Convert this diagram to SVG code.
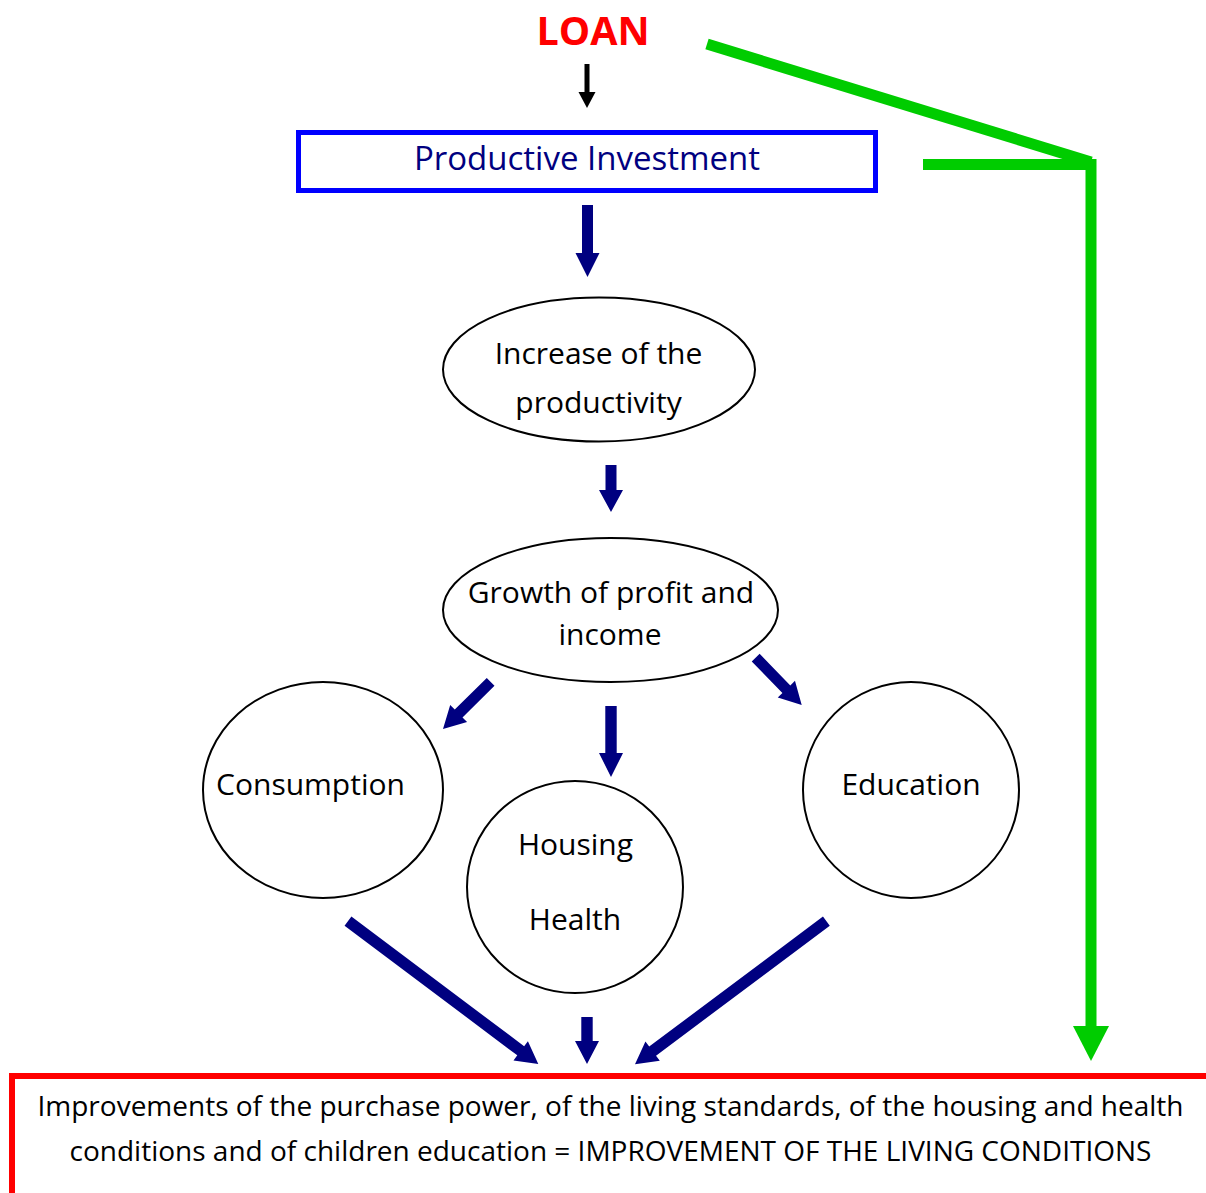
<svg xmlns="http://www.w3.org/2000/svg" width="1206" height="1193" viewBox="0 0 1206 1193">
<style>
.t{font-family:"Open Sans","Liberation Sans",sans-serif;fill:#000;text-anchor:middle}
.n{fill:#fff;stroke:#000;stroke-width:2}
.na{fill:#000080}
.g{stroke:#00cc00;stroke-width:11;fill:none}
</style>
<rect width="1206" height="1193" fill="#fff"/>
<g id="loan"><text class="t" x="593" y="45" font-size="39.5" font-weight="bold" style="fill:#ff0000">LOAN</text></g>
<g id="productive-investment">
<rect x="298.5" y="132.5" width="577" height="58" fill="#fff" stroke="#0000ff" stroke-width="5"/>
<text class="t" x="587" y="170" font-size="33" style="fill:#000080">Productive Investment</text>
</g>
<g id="increase">
<ellipse class="n" cx="599" cy="369.5" rx="156" ry="72"/>
<text class="t" x="598.5" y="364" font-size="30">Increase of the</text>
<text class="t" x="598.5" y="413" font-size="30">productivity</text>
</g>
<g id="growth">
<ellipse class="n" cx="610.5" cy="610" rx="167.5" ry="72"/>
<text class="t" x="611" y="603" font-size="30">Growth of profit and</text>
<text class="t" x="610" y="645" font-size="30">income</text>
</g>
<g id="consumption">
<ellipse class="n" cx="323" cy="790" rx="120" ry="108"/>
<text class="t" x="310.5" y="795" font-size="30">Consumption</text>
</g>
<g id="housing-health">
<ellipse class="n" cx="575" cy="887" rx="108" ry="106"/>
<text class="t" x="575.5" y="855" font-size="30">Housing</text>
<text class="t" x="575" y="930" font-size="30">Health</text>
</g>
<g id="education">
<ellipse class="n" cx="911" cy="790" rx="108" ry="108"/>
<text class="t" x="911" y="795" font-size="30">Education</text>
</g>
<g id="result">
<rect x="12" y="1076" width="1200" height="200" fill="#fff" stroke="#ff0000" stroke-width="6"/>
<text class="t" x="610.5" y="1116" font-size="28">Improvements of the purchase power, of the living standards, of the housing and health</text>
<text class="t" x="610.5" y="1161" font-size="28">conditions and of children education = IMPROVEMENT OF THE LIVING CONDITIONS</text>
</g>
<g id="connectors">
<polygon points="584.5,64 589.5,64 589.5,92 595.5,92 587,108 578.5,92 584.5,92" fill="#000"/>
<polygon class="na" points="582,205 593,205 593,253 599.5,253 587.5,277 575.5,253 582,253"/>
<polygon class="na" points="605.5,465 616.5,465 616.5,490 623,490 611,512 599,490 605.5,490"/>
<polygon class="na" points="605.3,706 616.7,706 616.7,753 623,753 611,777 599,753 605.3,753"/>
<polygon class="na" points="581.3,1017 592.7,1017 592.7,1041 599,1041 587,1064 575,1041 581.3,1041"/>
<g class="na">
<path d="M-5.5,-67 H5.5 V-22 H12 L0,0 L-12,-22 H-5.5 Z" transform="translate(443,729) rotate(45.3)"/>
<path d="M-5.5,-66 H5.5 V-22 H12 L0,0 L-12,-22 H-5.5 Z" transform="translate(801.7,705) rotate(-44.2)"/>
<path d="M-5.7,-238 H5.7 V-22 H12 L0,0 L-12,-22 H-5.7 Z" transform="translate(538.3,1064) rotate(-53.1)"/>
<path d="M-5.7,-239 H5.7 V-22 H12 L0,0 L-12,-22 H-5.7 Z" transform="translate(635,1064.3) rotate(53.2)"/>
</g>
<line class="g" x1="707" y1="44" x2="1091" y2="162"/>
<line class="g" x1="923" y1="164.5" x2="1091" y2="164.5"/>
<line class="g" x1="1091" y1="159" x2="1091" y2="1027"/>
<polygon points="1073,1026 1109,1026 1091,1061" fill="#00cc00"/>
</g>
</svg>
